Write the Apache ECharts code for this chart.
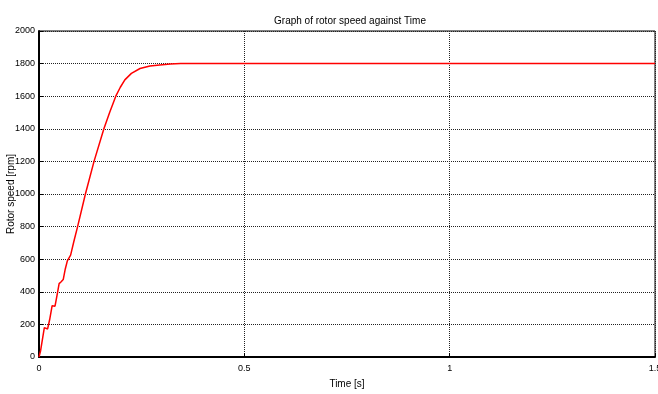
<!DOCTYPE html>
<html>
<head>
<meta charset="utf-8">
<script src="https://cdn.jsdelivr.net/npm/echarts@6/dist/echarts.min.js"></script>
<style>
  html, body { margin: 0; padding: 0; background: #fff; }
  #chart { width: 658px; height: 394px; }
</style>
</head>
<body>
<div id="chart"></div>
<script>
// time [s] and rotor speed [rpm]
var timeS = [0, 0.004, 0.013, 0.017, 0.021, 0.026, 0.032, 0.036, 0.039, 0.044,
  0.049, 0.054, 0.059, 0.064, 0.069, 0.077, 0.085, 0.094, 0.113, 0.134,
  0.158, 0.172, 0.187, 0.198, 0.209, 0.225, 0.246, 0.27, 0.294, 0.32, 0.345, 1.5];
var speedRpm = [0, 40, 180, 185, 172, 230, 315, 320, 312, 380,
  450, 462, 475, 540, 590, 625, 710, 800, 1000, 1200,
  1400, 1500, 1600, 1655, 1700, 1740, 1770, 1785, 1792, 1797, 1800, 1800];

var font = "'Liberation Sans Narrow', 'Liberation Sans', Arial, sans-serif";

var pts = [];
for (var i = 0; i < timeS.length; i++) pts.push([timeS[i], speedRpm[i]]);

var chart = echarts.init(document.getElementById('chart'));
var grid_line = { show: true, lineStyle: { color: '#222', type: 'dotted', width: 1 } };

chart.setOption({
  animation: false,
  backgroundColor: '#fff',
  title: {
    text: 'Graph of rotor speed against Time',
    left: 345, top: 11, textAlign: 'center',
    textStyle: { fontFamily: font, fontSize: 10, fontWeight: 'normal', color: '#000' }
  },
  grid: {
    left: 39, right: 3, top: 31, bottom: 37,
    outerBoundsMode: 'none', containLabel: false,
    show: true, borderColor: '#000', borderWidth: 1
  },
  xAxis: [{
    type: 'value', min: 0, max: 1.5, interval: 0.5,
    name: 'Time [s]', nameLocation: 'middle', nameGap: 22, nameMoveOverlap: false,
    nameTextStyle: { fontFamily: font, fontSize: 10, color: '#000' },
    axisLine: { show: true, onZero: false, lineStyle: { color: '#000', width: 2 } },
    axisTick: { show: true, inside: true, length: 4, lineStyle: { color: '#000' } },
    axisLabel: { fontFamily: font, fontSize: 9, color: '#000', margin: 7 },
    splitLine: grid_line
  }],
  yAxis: [{
    type: 'value', min: 0, max: 2000, interval: 200,
    name: 'Rotor speed [rpm]', nameLocation: 'middle', nameGap: 23, nameMoveOverlap: false,
    nameTextStyle: { fontFamily: font, fontSize: 10, color: '#000' },
    axisLine: { show: true, onZero: false, lineStyle: { color: '#000', width: 2 } },
    axisTick: { show: true, inside: true, length: 4, lineStyle: { color: '#000' } },
    axisLabel: { fontFamily: font, fontSize: 9, color: '#000', margin: 4,
      formatter: function (v) { return String(v); } },
    splitLine: grid_line
  }],
  series: [{
    type: 'line',
    data: pts,
    showSymbol: false,
    lineStyle: { color: '#ff0000', width: 1.5 }
  }]
});
</script>
</body>
</html>
